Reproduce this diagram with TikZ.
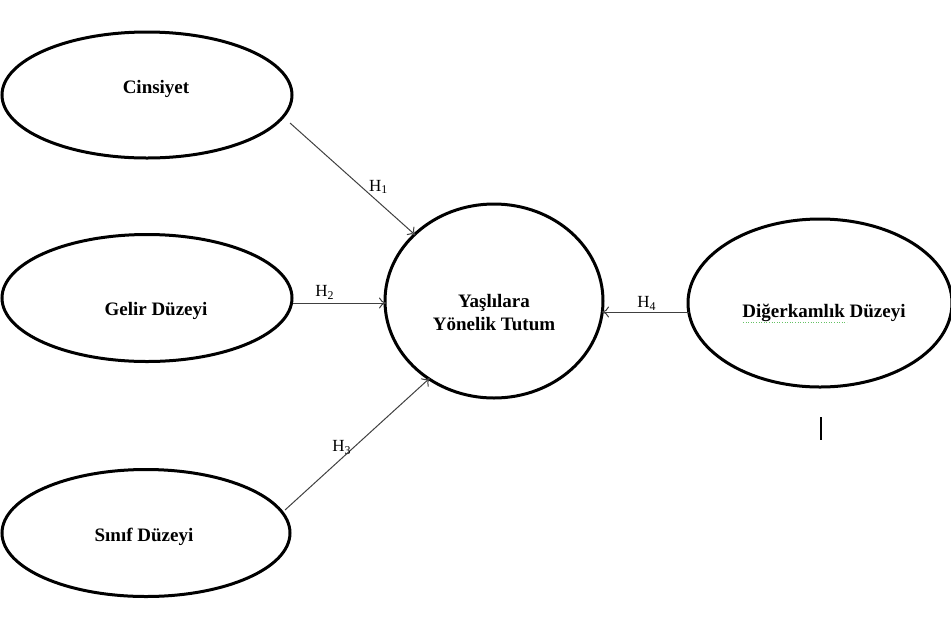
\documentclass[tikz,border=0pt]{standalone}
\usepackage{fontspec}
\setmainfont{Liberation Serif}
\usetikzlibrary{shapes.geometric,arrows.meta}
\begin{document}
\begin{tikzpicture}[x=1pt,y=-1pt,
  oval/.style={draw=black,line width=3pt,ellipse,inner sep=0pt},
  otext/.style={font=\bfseries\fontsize{19}{23}\selectfont,align=center,inner sep=0pt},
  conn/.style={draw=black!75,line width=1pt,shorten >=-2.5pt,-{To[length=7pt,width=11pt]}},
  hlab/.style={font=\fontsize{17}{19}\selectfont,inner sep=1pt}]
\useasboundingbox (0,0) rectangle (951,625);
\node[oval,minimum width=290pt,minimum height=126pt] (cin) at (147,95) {};
\node[oval,minimum width=290pt,minimum height=127pt] (gel) at (147,298) {};
\node[oval,minimum width=288pt,minimum height=127pt] (sin) at (146,533) {};
\node[oval,minimum width=218pt,minimum height=194pt] (yas) at (494,301) {};
\node[oval,minimum width=264pt,minimum height=168pt] (dig) at (820,303) {};
\node[otext] (cint) at (156,89) {Cinsiyet};
\node[otext] (gelt) at (156,311) {Gelir Düzeyi};
\node[otext] (sint) at (144,537) {Sınıf Düzeyi};
\node[otext] (yast) at (494,313) {Yaşlılara\\Yönelik Tutum};
\node[otext] (digt) at (824,313) {Diğerkamlık Düzeyi};
\coordinate (c1) at (290,123);
\coordinate (g1) at (293,303);
\coordinate (s1) at (285,510);
\coordinate (d1) at (689,312);
\draw[conn] (c1) -- (yas.140) node[hlab,pos=0.58,anchor=west,xshift=6pt] {H\textsubscript{1}};
\draw[conn] (g1) -- (yas.west |- g1) node[hlab,pos=0.35,above=2pt] {H\textsubscript{2}};
\draw[conn] (s1) -- (yas.230) node[hlab,pos=0.48,anchor=east,xshift=-1pt] {H\textsubscript{3}};
\draw[conn] (d1) -- (yas.east |- d1) node[hlab,pos=0.5,above=0pt] {H\textsubscript{4}};
\draw[green!60!black!60,line width=0.6pt,dotted] (743,322) -- (847,322);
\draw[black,line width=2pt] (821,417) -- (821,440);
\end{tikzpicture}
\end{document}
